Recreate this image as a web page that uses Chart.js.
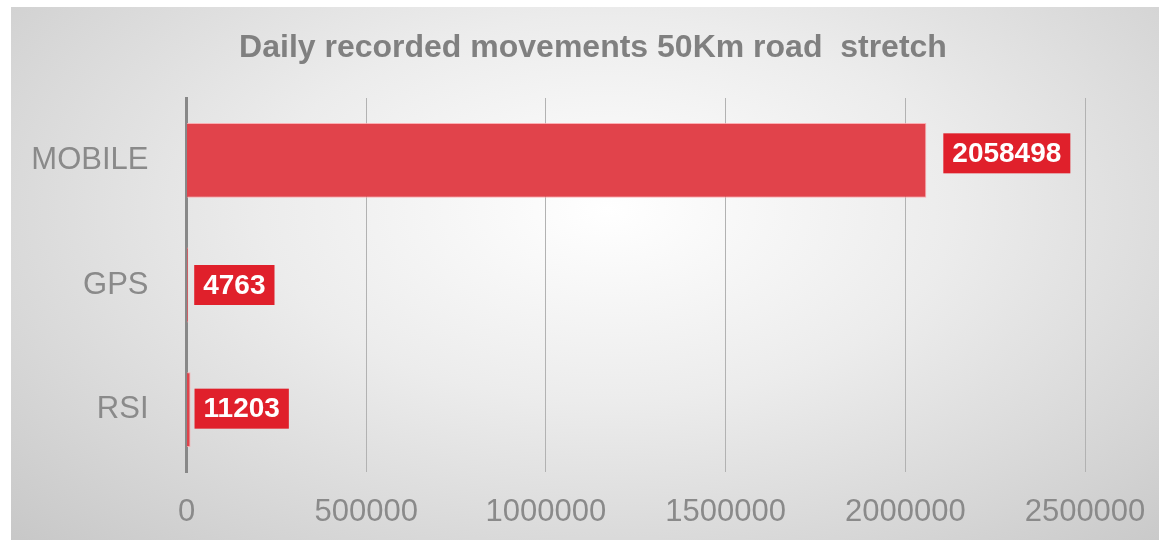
<!DOCTYPE html>
<html>
<head>
<meta charset="utf-8">
<script src="https://cdn.jsdelivr.net/npm/chart.js@4/dist/chart.umd.min.js"></script>
<style>
  html, body { margin: 0; padding: 0; background: #ffffff; }
  #wrap {
    position: absolute; left: 11px; top: 7px; width: 1148px; height: 533px;
    background: radial-gradient(ellipse 75% 90% at 52% 38%, #ffffff 0%, #ececec 40%, #d6d6d6 75%, #c6c6c6 100%);
  }
  canvas { display: block; }
</style>
</head>
<body>
<div id="wrap"><canvas id="c" width="1148" height="533"></canvas></div>
<script>
const categories = ["MOBILE", "GPS", "RSI"];
const movements = [2058498, 4763, 11203];
const xTicks = [0, 500000, 1000000, 1500000, 2000000, 2500000];
const chartTitle = "Daily recorded movements 50Km road  stretch";

const FONT = "'Liberation Sans', Arial, Helvetica, sans-serif";

const titleDraw = {
  id: 'titleDraw',
  afterDraw(chart, args, opts) {
    const ctx = chart.ctx;
    ctx.save();
    ctx.font = 'bold 32px ' + FONT;
    ctx.fillStyle = '#808080';
    ctx.textAlign = 'center';
    ctx.textBaseline = 'alphabetic';
    ctx.fillText(opts.text, opts.cx, opts.baseline);
    ctx.restore();
  }
};

const valueLabels = {
  id: 'valueLabels',
  afterDatasetsDraw(chart, args, opts) {
    const ctx = chart.ctx;
    const meta = chart.getDatasetMeta(0);
    const data = chart.data.datasets[0].data;
    ctx.save();
    ctx.font = 'bold 28px ' + FONT;
    ctx.textBaseline = 'middle';
    ctx.textAlign = 'left';
    meta.data.forEach((bar, i) => {
      const text = String(data[i]);
      const w = ctx.measureText(text).width;
      const x0 = bar.x + opts.gaps[i];
      const cy = bar.y + opts.dy[i];
      const h = 40;
      ctx.fillStyle = '#e0202b';
      ctx.fillRect(x0, cy - h / 2, w + 2 * opts.padX, h);
      ctx.fillStyle = '#ffffff';
      ctx.fillText(text, x0 + opts.padX, cy + 1);
    });
    ctx.restore();
  }
};

new Chart(document.getElementById('c'), {
  type: 'bar',
  data: {
    labels: categories,
    datasets: [{
      data: movements,
      backgroundColor: '#e1434b',
      borderColor: 'rgba(255,160,165,0.8)',
      borderWidth: 1,
      borderSkipped: 'start',
      barPercentage: 1,
      categoryPercentage: 0.6
    }]
  },
  options: {
    indexAxis: 'y',
    responsive: false,
    animation: false,
    events: [],
    layout: { padding: { left: 0, right: 74, top: 91, bottom: 9 } },
    plugins: {
      legend: { display: false },
      tooltip: { enabled: false },
      title: { display: false },
      titleDraw: { text: chartTitle, cx: 582, baseline: 50 },
      valueLabels: { gaps: [17, 6, 4], dy: [-7, 0, -1], padX: 9 }
    },
    scales: {
      x: {
        min: 0,
        max: 2500000,
        afterBuildTicks(scale) { scale.ticks = xTicks.map(v => ({ value: v })); },
        afterFit(scale) {
          scale.paddingLeft = 0; scale.paddingRight = 0;
          scale.height = 59;
        },
        grid: { display: true, color: '#b2b2b2', lineWidth: 1, drawTicks: false },
        border: { display: false },
        ticks: {
          color: '#8a8a8a',
          font: { family: FONT, size: 31 },
          padding: 22,
          maxRotation: 0,
          autoSkip: false,
          callback: (v) => String(v)
        }
      },
      y: {
        grid: { display: false, drawTicks: false },
        border: { display: true, color: '#888888', width: 3 },
        afterFit(scale) {
          scale.width = 175.5;
          scale.paddingTop = 0; scale.paddingBottom = 0;
        },
        ticks: {
          color: '#8a8a8a',
          font: { family: FONT, size: 31 },
          padding: 38
        }
      }
    }
  },
  plugins: [valueLabels, titleDraw]
});
</script>
</body>
</html>
